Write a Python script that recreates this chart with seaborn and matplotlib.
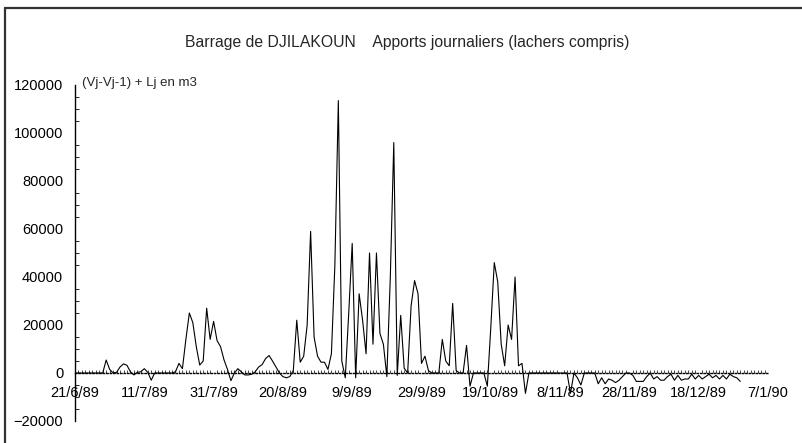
import seaborn as sns
import pandas as pd
import matplotlib.pyplot as plt
from matplotlib.lines import Line2D
from matplotlib.ticker import MultipleLocator

# apports journaliers (milliers de m3), un point par jour a partir du 21/6/89
apports = [
    0, 0, 0, 0, 0, 0, 0, 0, 0, 5.4,
    1.5, 0, 0.3, 2.5, 3.8, 3.2, 0.5, -0.8, 0.3, 0.5,
    1.8, 0.3, -3.0, 0, 0, 0, 0, 0, 0, 0.5,
    4.0, 1.8, 14, 25, 21, 11, 3.3, 5, 27, 14,
    21.5, 13.5, 11, 5.5, 1.5, -3.2, 0, 1.8, 0.5, -0.8,
    -0.8, -0.5, 0.5, 2.5, 3.5, 6, 7.3, 5, 2.5, 0,
    -1.5, -2, -1.5, 1, 22, 4.5, 7, 20, 59, 15,
    7, 4.5, 4.5, 1.5, 8, 45, 113.5, 5, -2, 25,
    54, -2, 33, 22, 8, 50, 12, 50, 16.5, 12,
    -1.5, 40, 96, -1, 24, 2, 0, 28, 38.5, 33,
    4, 7, 1, 0, 0, 0, 14, 5, 3, 29,
    1, 0, 0, 11.5, -5.5, 0, 0, 0, 0, -5.5,
    19, 46, 38, 12, 3, 20, 14, 40, 3, 4,
    -8.5, 0, 0, 0, 0, 0, 0, 0, 0, 0,
    0, 0, 0, -8.5, 0, -2, -5, 0, 0, 0,
    0, -4.5, -2, -4.5, -2.5, -3, -4, -3, -1.5, 0,
    0, -1, -3.5, -3.5, -3.5, -1.5, 0, -2.5, -1.5, -3,
    -3, -1.5, -0.5, -3, -1, -3, -2.5, -2.5, -0.5, -2.5,
    -1, -2.5, -1.5, -0.5, -2, -1, -2.5, -1, -2.5, -0.5,
    -1.5, -2, -3.5,
]

tick_days = [0, 20, 40, 60, 80, 100, 120, 140, 160, 180, 200]
tick_labels = ['21/6/89', '11/7/89', '31/7/89', '20/8/89', '9/9/89', '29/9/89',
               '19/10/89', '8/11/89', '28/11/89', '18/12/89', '7/1/90']

df = pd.DataFrame({'jour': range(len(apports)),
                   'apport': [v * 1000 for v in apports]})

sns.set_style('white')
plt.rcParams['font.family'] = ['Liberation Sans', 'DejaVu Sans']

fig = plt.figure(figsize=(8.03, 4.43), dpi=100)
ax = fig.add_axes([75 / 803, 22 / 443, 693 / 803, 336 / 443])

sns.lineplot(data=df, x='jour', y='apport', color='black', linewidth=0.8, ax=ax)

ax.set_xlim(0, 200)
ax.set_ylim(-20000, 120000)
ax.set_xlabel('')
ax.set_ylabel('')

# axes en croix : l'axe des x passe par zero
ax.spines['top'].set_visible(False)
ax.spines['right'].set_visible(False)
ax.spines['bottom'].set_position(('data', 0))
ax.spines['bottom'].set_linestyle((0, (1, 1.5)))
ax.spines['bottom'].set_linewidth(1.0)
ax.spines['left'].set_linewidth(1.0)
ax.spines['left'].set_color('black')
ax.spines['bottom'].set_color('black')

ax.set_xticks(tick_days)
ax.set_xticklabels(tick_labels)
ax.yaxis.set_major_locator(MultipleLocator(20000))
ax.yaxis.set_minor_locator(MultipleLocator(5000))
ax.xaxis.set_minor_locator(MultipleLocator(1))
ax.tick_params(axis='both', which='major', direction='inout', length=7, width=0.8,
               colors='black', labelsize=10.5)
ax.tick_params(axis='x', which='major', pad=6)
ax.tick_params(axis='y', which='major', pad=5)
ax.tick_params(axis='y', which='minor', direction='in', length=3, width=0.6, color='black', left=True)
ax.tick_params(axis='x', which='minor', direction='in', length=2, width=0.5, color='black', bottom=True)

ax.text(2, 121000, '(Vj-Vj-1) + Lj en m3', fontsize=9.5, va='center', ha='left')

fig.text(0.507, 1 - 42 / 443, 'Barrage de DJILAKOUN    Apports journaliers (lachers compris)',
         ha='center', va='center', fontsize=11.3)

# cadre du document
fig.add_artist(Line2D([5 / 803, 5 / 803], [0, 1 - 8 / 443], color='0.2', linewidth=1.6))
fig.add_artist(Line2D([5 / 803, 1], [1 - 8 / 443, 1 - 8 / 443], color='0.2', linewidth=1.6))

fig.savefig('out.png', dpi=100)
